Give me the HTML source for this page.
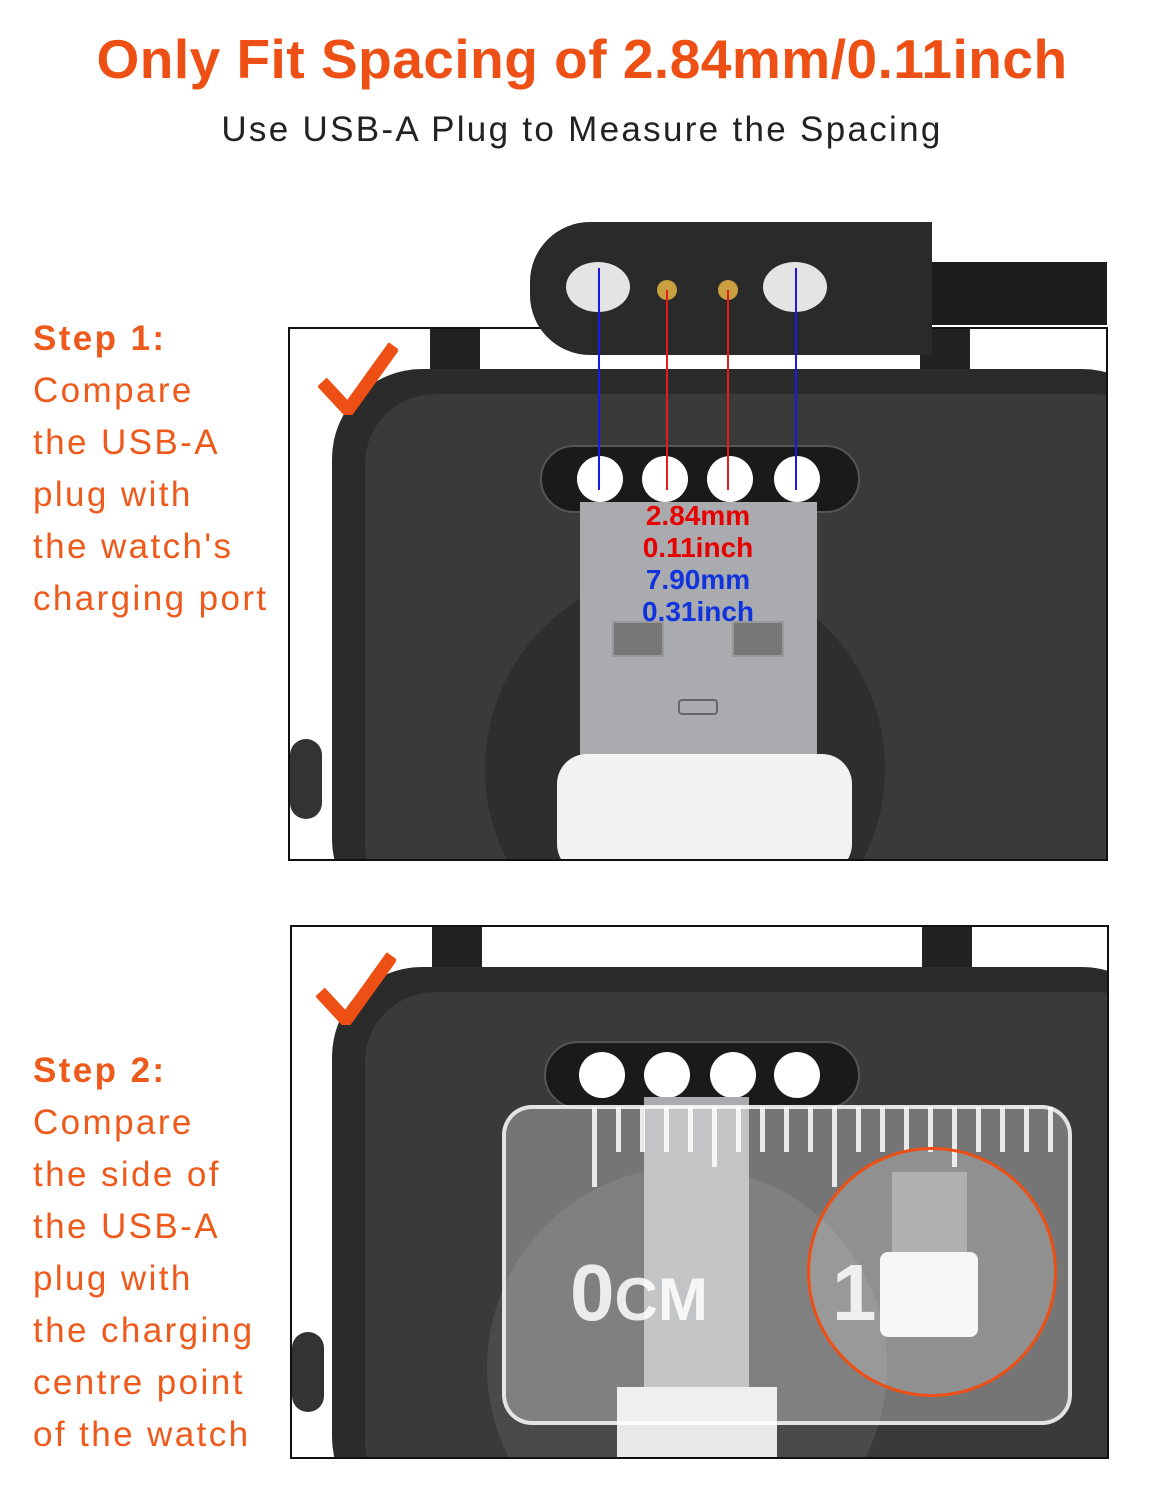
<!DOCTYPE html>
<html><head><meta charset="utf-8"><style>
*{margin:0;padding:0;box-sizing:border-box}
body{width:1154px;height:1500px;background:#fff;position:relative;overflow:hidden;font-family:"Liberation Sans",sans-serif}
.a{position:absolute}
.t{color:#ee4f14}
.step{position:absolute;left:33px;color:#ee5a1c;font-size:35px;line-height:52px;letter-spacing:2.4px}
.pin{position:absolute;width:46px;height:46px;border-radius:50%;background:#fff}
.box{position:absolute;border:2px solid #111;overflow:hidden;background:#fff}
.tick{position:absolute;top:0;width:5px;background:rgba(255,255,255,.85)}
</style></head><body>
<div class="a t" style="left:0;width:1164px;top:27px;text-align:center;font-size:55px;font-weight:bold;letter-spacing:0.5px">Only Fit Spacing of 2.84mm/0.11inch</div>
<div class="a" style="left:0;width:1164px;top:110px;text-align:center;font-size:35px;color:#222;letter-spacing:2.3px">Use USB-A Plug to Measure the Spacing</div>

<div class="step" style="top:313px"><b>Step 1:</b><br>Compare<br>the USB-A<br>plug with<br>the watch's<br>charging port</div>
<div class="step" style="top:1045px"><b>Step 2:</b><br>Compare<br>the side of<br>the USB-A<br>plug with<br>the charging<br>centre point<br>of the watch</div>

<!-- Box 1 -->
<div class="box" style="left:288px;top:327px;width:820px;height:534px">
 <div class="a" style="left:140px;top:0;width:50px;height:80px;background:#222"></div>
 <div class="a" style="left:630px;top:0;width:50px;height:80px;background:#222"></div>
 <div class="a" style="left:42px;top:40px;width:840px;height:560px;background:#2b2b2b;border-radius:90px"></div>
 <div class="a" style="left:75px;top:65px;width:800px;height:520px;background:#3a3a3a;border-radius:70px"></div>
 <div class="a" style="left:195px;top:240px;width:400px;height:400px;border-radius:50%;background:#2e2e2e"></div>
 <div class="a" style="left:250px;top:116px;width:320px;height:68px;border-radius:34px;background:#1a1a1a;border:2px solid #555"></div>
 <div class="pin" style="left:287px;top:127px"></div>
 <div class="pin" style="left:352px;top:127px"></div>
 <div class="pin" style="left:417px;top:127px"></div>
 <div class="pin" style="left:484px;top:127px"></div>
 <div class="a" style="left:290px;top:173px;width:237px;height:260px;background:#a9abae"></div>
 <div class="a" style="left:322px;top:292px;width:52px;height:36px;background:#777;border:2px solid #999"></div>
 <div class="a" style="left:442px;top:292px;width:52px;height:36px;background:#777;border:2px solid #999"></div>
 <div class="a" style="left:388px;top:370px;width:40px;height:16px;border:2px solid #666;border-radius:4px"></div>
 <div class="a" style="left:267px;top:425px;width:295px;height:120px;background:#f2f2f2;border-radius:30px"></div>
 <div class="a" style="left:0;top:410px;width:32px;height:80px;border-radius:16px;background:#333"></div>
</div>
<svg class="a" style="left:318px;top:340px" width="80" height="75"><path d="M4 42 L30 70 L76 6" stroke="#ee4f14" stroke-width="13" fill="none"/></svg>
<!-- connector -->
<div class="a" style="left:930px;top:262px;width:177px;height:63px;background:#1c1c1c"></div>
<div class="a" style="left:530px;top:222px;width:402px;height:133px;background:#2a2a2a;border-radius:60px 0 0 60px"></div>
<div class="a" style="left:566px;top:262px;width:64px;height:50px;border-radius:50%;background:#e4e4e4"></div>
<div class="a" style="left:763px;top:262px;width:64px;height:50px;border-radius:50%;background:#e4e4e4"></div>
<div class="a" style="left:657px;top:280px;width:20px;height:20px;border-radius:50%;background:#c9a040"></div>
<div class="a" style="left:718px;top:280px;width:20px;height:20px;border-radius:50%;background:#c9a040"></div>
<div class="a" style="left:598px;top:268px;width:2px;height:222px;background:#1a1ae6"></div>
<div class="a" style="left:795px;top:268px;width:2px;height:222px;background:#1a1ae6"></div>
<div class="a" style="left:666px;top:290px;width:2px;height:200px;background:#e61a1a"></div>
<div class="a" style="left:727px;top:290px;width:2px;height:200px;background:#e61a1a"></div>
<div class="a" style="left:600px;top:500px;width:196px;text-align:center;font-size:28px;font-weight:bold;line-height:32px"><span style="color:#e60000">2.84mm<br>0.11inch</span><br><span style="color:#1133dd">7.90mm<br>0.31inch</span></div>

<!-- Box 2 -->
<div class="box" style="left:290px;top:925px;width:819px;height:534px">
 <div class="a" style="left:140px;top:0;width:50px;height:80px;background:#222"></div>
 <div class="a" style="left:630px;top:0;width:50px;height:80px;background:#222"></div>
 <div class="a" style="left:40px;top:40px;width:840px;height:560px;background:#2b2b2b;border-radius:90px"></div>
 <div class="a" style="left:73px;top:65px;width:800px;height:520px;background:#3a3a3a;border-radius:70px"></div>
 <div class="a" style="left:195px;top:240px;width:400px;height:400px;border-radius:50%;background:#4a4a4a"></div>
 <div class="a" style="left:252px;top:114px;width:316px;height:68px;border-radius:34px;background:#1a1a1a;border:2px solid #555"></div>
 <div class="pin" style="left:287px;top:125px"></div>
 <div class="pin" style="left:352px;top:125px"></div>
 <div class="pin" style="left:418px;top:125px"></div>
 <div class="pin" style="left:482px;top:125px"></div>
 <div class="a" style="left:352px;top:170px;width:105px;height:300px;background:#a9abae"></div>
 <div class="a" style="left:325px;top:460px;width:160px;height:80px;background:#e8e8e8"></div>
 <div class="a" style="left:210px;top:178px;width:570px;height:320px;border:4px solid rgba(255,255,255,.8);border-radius:30px;background:rgba(255,255,255,.3)"></div>
 <div class="a" style="left:300px;top:180px;width:480px;height:80px">
  <div class="tick" style="left:0;height:80px"></div><div class="tick" style="left:24px;height:45px"></div><div class="tick" style="left:48px;height:45px"></div><div class="tick" style="left:72px;height:45px"></div><div class="tick" style="left:96px;height:45px"></div><div class="tick" style="left:120px;height:60px"></div><div class="tick" style="left:144px;height:45px"></div><div class="tick" style="left:168px;height:45px"></div><div class="tick" style="left:192px;height:45px"></div><div class="tick" style="left:216px;height:45px"></div><div class="tick" style="left:240px;height:80px"></div><div class="tick" style="left:264px;height:45px"></div><div class="tick" style="left:288px;height:45px"></div><div class="tick" style="left:312px;height:45px"></div><div class="tick" style="left:336px;height:45px"></div><div class="tick" style="left:360px;height:60px"></div><div class="tick" style="left:384px;height:45px"></div><div class="tick" style="left:408px;height:45px"></div><div class="tick" style="left:432px;height:45px"></div><div class="tick" style="left:456px;height:45px"></div>
 </div>
 <div class="a" style="left:278px;top:320px;font-size:80px;color:rgba(255,255,255,.85);font-weight:bold">0<span style="font-size:60px">CM</span></div>
 <div class="a" style="left:540px;top:320px;font-size:80px;color:rgba(255,255,255,.85);font-weight:bold">1</div>
 <div class="a" style="left:515px;top:220px;width:250px;height:250px;border-radius:50%;border:3px solid #ee4f14;background:rgba(255,255,255,.2)"></div>
 <div class="a" style="left:600px;top:245px;width:75px;height:90px;background:#b0b0b0"></div>
 <div class="a" style="left:588px;top:325px;width:98px;height:85px;background:#f6f6f6;border-radius:8px"></div>
 <div class="a" style="left:0;top:405px;width:32px;height:80px;border-radius:16px;background:#333"></div>
</div>
<svg class="a" style="left:316px;top:950px" width="80" height="75"><path d="M4 42 L30 70 L76 6" stroke="#ee4f14" stroke-width="13" fill="none"/></svg>
</body></html>
